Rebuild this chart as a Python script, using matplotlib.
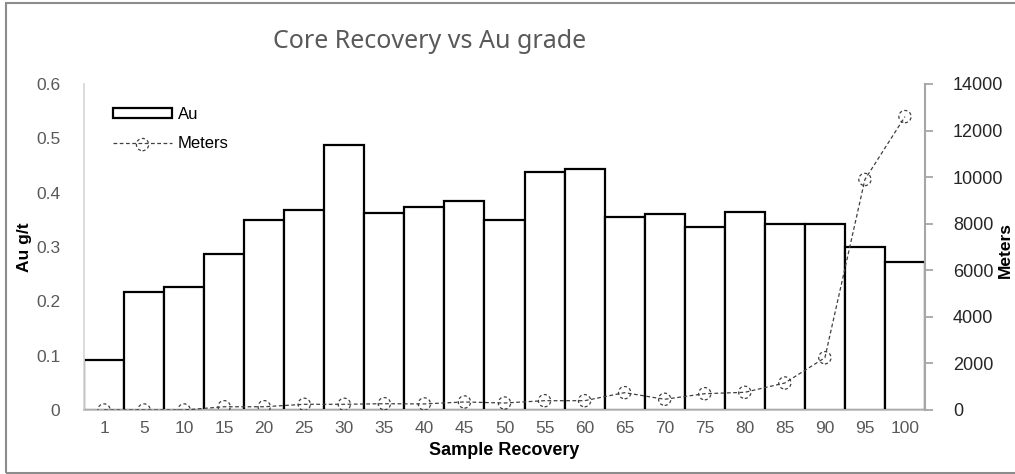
import matplotlib
matplotlib.use("Agg")
import matplotlib.pyplot as plt
from matplotlib.patches import Patch, Rectangle
from matplotlib.lines import Line2D
from matplotlib.legend_handler import HandlerTuple

plt.rcParams['font.family'] = ['Liberation Sans', 'DejaVu Sans']

# data
recovery = ['1', '5', '10', '15', '20', '25', '30', '35', '40', '45', '50',
            '55', '60', '65', '70', '75', '80', '85', '90', '95', '100']
au_grade = [0.092, 0.218, 0.226, 0.288, 0.349, 0.369, 0.488, 0.362, 0.373, 0.384, 0.349,
            0.438, 0.444, 0.356, 0.361, 0.336, 0.364, 0.343, 0.343, 0.300, 0.272]
meters = [0, 0, 0, 140, 140, 245, 245, 270, 260, 345, 300,
          400, 400, 745, 460, 700, 760, 1160, 2245, 9900, 12600]
au_ticks = [0, 0.1, 0.2, 0.3, 0.4, 0.5, 0.6]
au_tick_labels = ['0', '0.1', '0.2', '0.3', '0.4', '0.5', '0.6']
m_ticks = [0, 2000, 4000, 6000, 8000, 10000, 12000, 14000]

W, H = 1015, 474
fig = plt.figure(figsize=(W / 100, H / 100), dpi=100)
ax = fig.add_axes([84 / W, 1 - 410 / H, (925 - 84) / W, (410 - 84) / H])
ax2 = ax.twinx()

x = list(range(len(recovery)))
ax.bar(x, au_grade, width=1.0, facecolor='white', edgecolor='black', linewidth=1.6, zorder=2)

ax2.plot(x, meters, color='#404040', lw=0.9, ls=(0, (3, 2)), zorder=3)
pts = ax2.scatter(x, meters, s=78, facecolors='none', edgecolors='#404040',
                  linewidths=0.9, linestyles=(0, (2.5, 2)), zorder=4)

ax.set_xlim(-0.5, len(recovery) - 0.5)
ax.set_ylim(0, 0.6)
ax2.set_ylim(0, 14000)

ax.set_xticks(x)
ax.set_xticklabels(recovery, fontsize=12.5, color='#595959')
ax.set_yticks(au_ticks)
ax.set_yticklabels(au_tick_labels, fontsize=12.5, color='#595959')
ax.tick_params(axis='y', length=0, pad=17)
ax.tick_params(axis='x', length=0, pad=8)
ax2.set_yticks(m_ticks)
ax2.set_yticklabels([str(v) for v in m_ticks], fontsize=13, color='#262626')
ax2.tick_params(axis='y', length=6, width=1.3, color='#a6a6a6', direction='out', pad=14)

for a in (ax, ax2):
    a.spines['top'].set_visible(False)
ax.spines['right'].set_visible(False)
ax.spines['left'].set_color('#d9d9d9')
ax.spines['left'].set_linewidth(1.3)
ax.spines['bottom'].set_color('#bfbfbf')
ax.spines['bottom'].set_linewidth(1.3)
ax2.spines['left'].set_visible(False)
ax2.spines['bottom'].set_visible(False)
ax2.spines['right'].set_color('#a6a6a6')
ax2.spines['right'].set_linewidth(1.5)

ax.set_xlabel('Sample Recovery', fontsize=13, fontweight='bold', color='black', labelpad=4)
fig.text(24 / W, 1 - 247 / H, 'Au g/t', rotation=90, ha='center', va='center', fontsize=12.5,
         fontweight='bold')
fig.text(1005 / W, 1 - 250 / H, 'Meters', rotation=90, ha='center', va='center', fontsize=12.5,
         fontweight='bold')

fig.text(430 / W, 1 - 42 / H, 'Core Recovery vs Au grade', ha='center', va='center', fontsize=18,
         color='#595959', family=['Noto Sans', 'DejaVu Sans'])

h_au = Patch(facecolor='white', edgecolor='black', linewidth=1.6)
h_m = (Line2D([], [], color='#404040', lw=0.9, ls=(0, (3, 2))), pts)
ax2.legend([h_au, h_m], ['Au', 'Meters'], handler_map={tuple: HandlerTuple(ndivide=1)},
           loc='upper left', bbox_to_anchor=(0.027, 0.95), frameon=False, fontsize=12,
           handlelength=3.5, handleheight=0.5, labelspacing=0.85, handletextpad=0.35, borderaxespad=0)

fig.patches.append(Rectangle((6 / W, 1 - 473 / H), 1.2, (473 - 3) / H, transform=fig.transFigure,
                             facecolor='none', edgecolor='#8c8c8c', linewidth=1.5))

fig.savefig('out.png', dpi=100)
